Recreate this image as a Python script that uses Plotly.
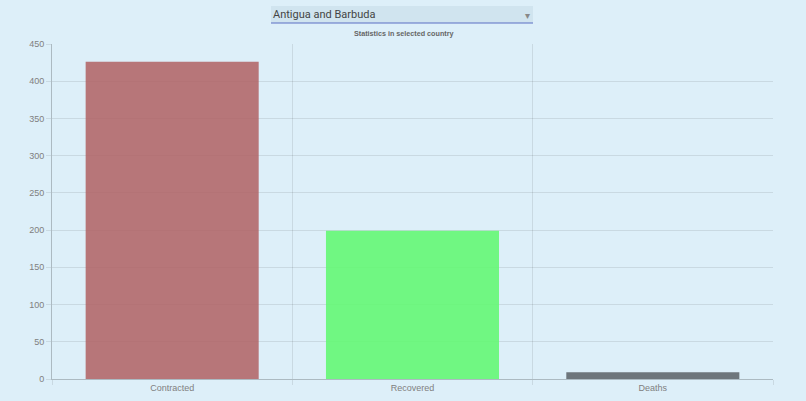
import plotly.graph_objects as go

categories = ["Contracted", "Recovered", "Deaths"]
values = [426, 199, 9]
bar_colors = ["rgba(176,96,99,0.85)", "rgba(100,247,116,0.9)", "rgba(98,104,110,0.9)"]
y_ticks = [0, 50, 100, 150, 200, 250, 300, 350, 400, 450]
country = "Antigua and Barbuda"
title = "Statistics in selected country"

bg = "#ddeff9"
grid = "rgba(0,0,0,0.09)"
axis_line = "rgba(0,0,0,0.22)"

fig = go.Figure()
fig.add_trace(go.Bar(
    x=categories, y=values,
    marker=dict(color=bar_colors, line=dict(width=0)),
    width=0.72, hoverinfo="x+y",
))

fig.update_layout(
    width=806, height=401,
    margin=dict(l=52, r=33, t=44, b=22, autoexpand=False),
    paper_bgcolor=bg, plot_bgcolor=bg,
    showlegend=False,
    font=dict(family="Liberation Sans, Arial, sans-serif", size=9, color="#808080"),
    xaxis=dict(
        type="category", range=[-0.5, 2.5], tickson="boundaries",
        showgrid=True, gridcolor=grid, gridwidth=1,
        ticks="outside", ticklen=5, tickcolor=grid,
        showline=True, linecolor=axis_line, linewidth=1,
        tickfont=dict(size=9, color="#808080"), fixedrange=True, automargin=False,
    ),
    yaxis=dict(
        range=[0, 450], tickvals=y_ticks,
        showgrid=True, gridcolor=grid, gridwidth=1,
        ticks="outside", ticklen=5, tickcolor=grid,
        showline=True, linecolor=axis_line, linewidth=1,
        zeroline=False, tickfont=dict(size=9, color="#808080"), fixedrange=True,
        automargin=False,
    ),
    shapes=[
        dict(type="rect", xref="paper", yref="paper",
             x0=(271 - 52) / 721, x1=(533 - 52) / 721,
             y0=(379 - 23) / 335, y1=(379 - 6) / 335,
             fillcolor="#d0e4ef", line=dict(width=0), layer="below"),
        dict(type="line", xref="paper", yref="paper",
             x0=(271 - 52) / 721, x1=(533 - 52) / 721,
             y0=(379 - 23) / 335, y1=(379 - 23) / 335,
             line=dict(color="#5b6fc4", width=1.2)),
    ],
    annotations=[
        dict(text=country, xref="paper", yref="paper",
             x=(271 - 52) / 721, y=(379 - 14.5) / 335,
             xanchor="left", yanchor="middle", showarrow=False,
             font=dict(family="Roboto, Arial, sans-serif", size=11, color="#444")),
        dict(text="▾", xref="paper", yref="paper",
             x=(527 - 52) / 721, y=(379 - 15) / 335,
             xanchor="center", yanchor="middle", showarrow=False,
             font=dict(size=10, color="#888")),
        dict(text="<b>" + title + "</b>", xref="paper", yref="paper",
             x=(403 - 52) / 721, y=(379 - 34) / 335,
             xanchor="center", yanchor="middle", showarrow=False,
             font=dict(family="Liberation Sans, Arial, sans-serif", size=7.2, color="#666")),
    ],
)

fig.write_html(
    "out.html",
    config={"displayModeBar": False},
    post_script="document.body.style.margin='0';document.body.style.background='%s';" % bg,
)
